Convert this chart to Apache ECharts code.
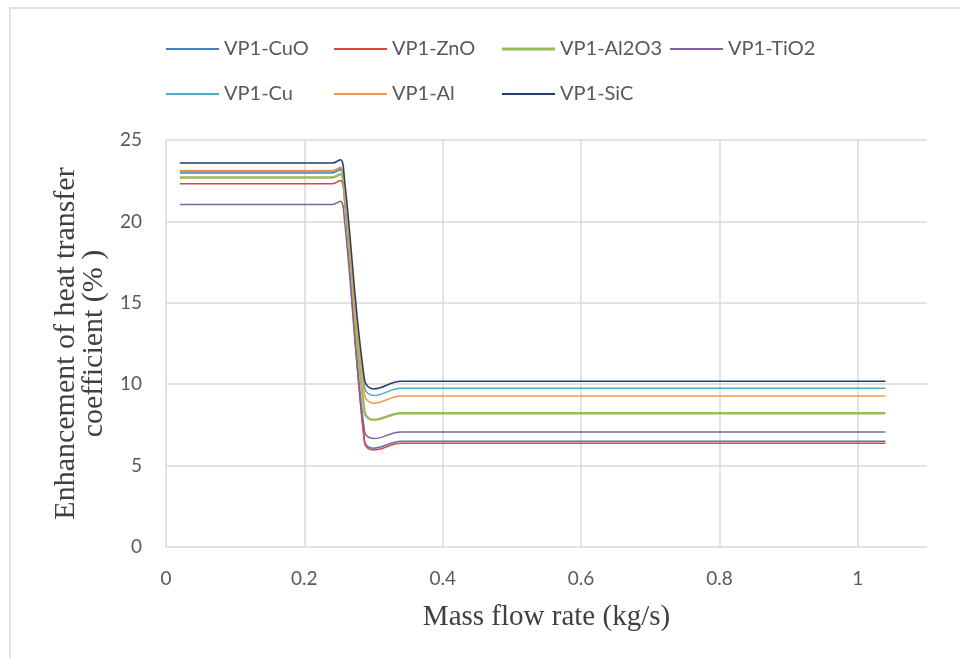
<!DOCTYPE html>
<html>
<head>
<meta charset="utf-8">
<script src="https://cdn.jsdelivr.net/npm/echarts@6/dist/echarts.min.js"></script>
<style>
html,body{margin:0;padding:0;background:#fff;}
#chart{width:960px;height:658px;}
</style>
</head>
<body>
<div id="chart"></div>
<script>
// Mass flow rate (kg/s) at the points
var massFlow = [0.02, 0.24, 0.252, 0.258, 0.287, 0.30, 0.34, 1.04];

// Enhancement of heat transfer coefficient (%)
var cuo   = [22.97, 22.97, 23.17, 21.97, 6.50, 6.07, 6.50, 6.50];
var zno   = [22.31, 22.31, 22.51, 21.31, 6.40, 5.96, 6.37, 6.37];
var al2o3 = [22.70, 22.70, 22.90, 21.70, 8.30, 7.81, 8.22, 8.22];
var tio2  = [21.04, 21.04, 21.24, 20.04, 7.10, 6.66, 7.07, 7.07];
var cu    = [23.06, 23.06, 23.26, 22.06, 9.80, 9.30, 9.75, 9.75];
var al    = [23.12, 23.12, 23.32, 22.12, 9.35, 8.83, 9.28, 9.28];
var sic   = [23.58, 23.58, 23.78, 22.58, 10.26, 9.71, 10.18, 10.18];

var seriesNames = ['VP1-CuO','VP1-ZnO','VP1-Al2O3','VP1-TiO2','VP1-Cu','VP1-Al','VP1-SiC'];
var seriesValues = [cuo, zno, al2o3, tio2, cu, al, sic];
var seriesColors = ['#4A7DC0','#D9453F','#9BBB59','#8064A2','#4BACC6','#F79646','#243F6E'];
var seriesWidths = [1.5, 1.5, 2.5, 1.5, 1.5, 1.5, 1.5];

// legend columns (Excel lays the legend out in a 4-column grid)
var legendColumns = [
  ['VP1-CuO', 'VP1-Cu'],
  ['VP1-ZnO', 'VP1-Al'],
  ['VP1-Al2O3', 'VP1-SiC'],
  ['VP1-TiO2']
];

var xTicks = {min: 0, max: 1.1, interval: 0.2};
var yTicks = {min: 0, max: 25, interval: 5};

function pairs(xs, ys) {
  return xs.map(function (x, i) { return [x, ys[i]]; });
}

var series = seriesNames.map(function (name, i) {
  return {
    name: name,
    type: 'line',
    data: pairs(massFlow, seriesValues[i]),
    smooth: 0.4,
    symbol: 'none',
    showSymbol: false,
    z: 2 + i,
    lineStyle: {color: seriesColors[i], width: seriesWidths[i]},
    itemStyle: {color: seriesColors[i]},
    animation: false
  };
});

var thinIcon = 'path://M0,0H80V3H0Z';
var thickIcon = 'path://M0,0H53V3H0Z';
var legendLeft = [161, 329, 497, 665];
var legends = legendColumns.map(function (col, c) {
  return {
    data: col.map(function (n) {
      var w = seriesWidths[seriesNames.indexOf(n)];
      return {name: n, icon: w > 2 ? thickIcon : thinIcon};
    }),
    orient: 'vertical',
    left: legendLeft[c], top: 34,
    itemWidth: 53, itemHeight: 3, itemGap: 25,
    textStyle: {fontFamily: 'Lato', fontSize: 20, color: '#595959'}
  };
});

var chart = echarts.init(document.getElementById('chart'), null, {renderer: 'canvas'});
chart.setOption({
  backgroundColor: '#fff',
  animation: false,
  graphic: [{
    type: 'rect',
    shape: {x: 10, y: 8, width: 1000, height: 700},
    style: {fill: 'none', stroke: '#D9D9D9', lineWidth: 1.5},
    silent: true
  }],
  legend: legends,
  grid: {left: 166, top: 140, width: 761, height: 407, containLabel: false},
  xAxis: {
    type: 'value',
    min: xTicks.min, max: xTicks.max, interval: xTicks.interval,
    name: 'Mass flow rate (kg/s)',
    nameLocation: 'middle',
    nameGap: 56,
    nameTextStyle: {fontFamily: 'Liberation Serif', fontSize: 29, color: '#404040'},
    axisLine: {show: false},
    axisTick: {show: false},
    axisLabel: {fontFamily: 'Lato', fontSize: 19, color: '#595959', margin: 22, showMaxLabel: false},
    splitLine: {show: true, showMaxLine: false, lineStyle: {color: '#D9D9D9', width: 1.5}}
  },
  yAxis: {
    type: 'value',
    min: yTicks.min, max: yTicks.max, interval: yTicks.interval,
    name: 'Enhancement of heat transfer\ncoefficient (% )',
    nameLocation: 'middle',
    nameGap: 44,
    nameTextStyle: {fontFamily: 'Liberation Serif', fontSize: 30, color: '#404040', lineHeight: 28},
    axisLine: {show: false},
    axisTick: {show: false},
    axisLabel: {fontFamily: 'Lato', fontSize: 19, color: '#595959', margin: 24},
    splitLine: {show: true, lineStyle: {color: '#D9D9D9', width: 1.5}}
  },
  series: series
});
</script>
</body>
</html>
